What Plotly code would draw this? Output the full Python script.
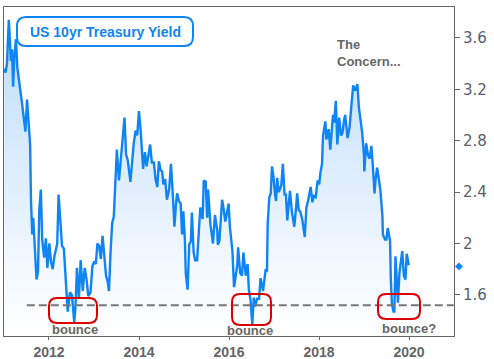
import plotly.graph_objects as go

dates = [
 "2011-01-03","2011-01-14","2011-01-25","2011-02-03","2011-02-09","2011-02-18","2011-02-25","2011-03-07","2011-03-16","2011-03-25",
 "2011-04-08","2011-04-19","2011-05-02","2011-05-12","2011-05-25","2011-06-09","2011-06-24","2011-07-07","2011-07-20","2011-08-01",
 "2011-08-08","2011-08-18","2011-08-26","2011-09-06","2011-09-22","2011-10-04","2011-10-14","2011-10-27","2011-11-07","2011-11-23",
 "2011-12-07","2011-12-19",
 "2012-01-04","2012-01-17","2012-01-31","2012-02-14","2012-02-28","2012-03-08","2012-03-19","2012-04-02","2012-04-16","2012-05-01",
 "2012-05-15","2012-05-25","2012-06-01","2012-06-19","2012-07-05","2012-07-24","2012-08-02","2012-08-15","2012-08-31","2012-09-14",
 "2012-10-01","2012-10-17","2012-11-01","2012-11-15","2012-12-03","2012-12-18",
 "2013-01-02","2013-01-15","2013-01-28","2013-02-11","2013-02-25","2013-03-11","2013-03-25","2013-04-08","2013-04-22","2013-05-02",
 "2013-05-15","2013-05-28","2013-06-10","2013-06-24","2013-07-05","2013-07-22","2013-08-05","2013-08-20","2013-09-05","2013-09-18",
 "2013-10-01","2013-10-23","2013-11-05","2013-11-20","2013-12-05","2013-12-17","2013-12-31",
 "2014-01-14","2014-02-03","2014-02-18","2014-03-03","2014-03-18","2014-04-01","2014-04-15","2014-05-01","2014-05-15","2014-05-29",
 "2014-06-11","2014-06-25","2014-07-08","2014-07-17","2014-08-01","2014-08-15","2014-09-02","2014-09-17","2014-10-01","2014-10-15",
 "2014-10-29","2014-11-06","2014-11-20","2014-12-05","2014-12-16","2014-12-26",
 "2015-01-08","2015-01-15","2015-01-30","2015-02-12","2015-02-26","2015-03-06","2015-03-20","2015-04-01","2015-04-17","2015-05-01",
 "2015-05-13","2015-06-01","2015-06-10","2015-06-26","2015-07-08","2015-07-15","2015-08-03","2015-08-24","2015-09-09","2015-09-28",
 "2015-10-02","2015-10-15","2015-11-06","2015-11-20","2015-12-02","2015-12-14","2015-12-29",
 "2016-01-08","2016-01-20","2016-01-29","2016-02-11","2016-02-25","2016-03-08","2016-03-15","2016-04-01","2016-04-15","2016-04-27",
 "2016-05-16","2016-05-31","2016-06-10","2016-06-24","2016-07-08","2016-07-20","2016-08-01","2016-08-16","2016-09-01","2016-09-13",
 "2016-10-03","2016-10-25","2016-11-04","2016-11-10","2016-11-23","2016-12-05","2016-12-15","2016-12-28",
 "2017-01-09","2017-01-17","2017-01-26","2017-02-07","2017-02-21","2017-03-01","2017-03-13","2017-03-27","2017-04-07","2017-04-18",
 "2017-05-01","2017-05-10","2017-05-25","2017-06-07","2017-06-14","2017-06-30","2017-07-07","2017-07-20","2017-08-01","2017-08-17",
 "2017-09-07","2017-09-20","2017-10-03","2017-10-25","2017-11-08","2017-11-20","2017-12-05","2017-12-20",
 "2018-01-02","2018-01-12","2018-01-25","2018-02-02","2018-02-21","2018-03-01","2018-03-20","2018-04-02","2018-04-24","2018-05-03",
 "2018-05-17","2018-05-29","2018-06-13","2018-06-28","2018-07-10","2018-07-25","2018-08-01","2018-08-20","2018-09-05","2018-09-20",
 "2018-10-05","2018-10-22","2018-11-08","2018-11-20","2018-12-03","2018-12-17","2018-12-31",
 "2019-01-03","2019-01-18","2019-02-01","2019-02-15","2019-03-01","2019-03-13","2019-03-27","2019-04-05","2019-04-17","2019-05-01",
 "2019-05-14","2019-05-30","2019-06-03","2019-06-20","2019-07-01","2019-07-12","2019-07-31","2019-08-06","2019-08-15","2019-08-28",
 "2019-09-04","2019-09-13","2019-09-27","2019-10-03","2019-10-15","2019-11-07","2019-11-20","2019-12-03","2019-12-13","2019-12-30",
]
yields = [
 3.36,3.33,3.40,3.58,3.74,3.58,3.42,3.51,3.22,3.44,
 3.59,3.37,3.29,3.20,3.11,3.00,2.87,3.12,2.90,2.77,
 2.34,2.07,2.20,1.98,1.72,1.78,2.25,2.42,2.03,1.89,
 2.04,1.81,
 2.00,1.86,1.80,1.90,1.98,2.00,2.38,2.20,1.98,1.96,
 1.76,1.57,1.47,1.62,1.60,1.39,1.49,1.81,1.57,1.87,
 1.63,1.81,1.72,1.59,1.62,1.82,
 1.86,1.84,2.00,1.98,1.88,2.06,1.91,1.75,1.70,1.63,
 1.94,2.16,2.21,2.55,2.73,2.49,2.64,2.83,2.98,2.69,
 2.65,2.48,2.63,2.79,2.88,2.84,3.03,
 2.88,2.58,2.71,2.60,2.69,2.77,2.63,2.63,2.50,2.44,
 2.64,2.57,2.56,2.46,2.50,2.34,2.42,2.62,2.40,2.13,
 2.32,2.39,2.33,2.31,2.07,2.25,
 2.03,1.77,1.64,1.99,2.02,2.24,1.93,1.87,1.87,2.12,
 2.28,2.19,2.49,2.48,2.20,2.42,2.15,2.00,2.22,2.10,
 1.99,2.02,2.34,2.26,2.17,2.23,2.31,
 2.13,1.98,1.94,1.66,1.74,1.83,1.97,1.77,1.75,1.93,
 1.75,1.84,1.64,1.56,1.37,1.58,1.51,1.57,1.57,1.73,
 1.63,1.80,1.78,2.15,2.36,2.39,2.60,2.51,
 2.38,2.33,2.51,2.40,2.43,2.46,2.62,2.38,2.38,2.18,
 2.32,2.41,2.25,2.18,2.13,2.30,2.39,2.26,2.25,2.19,
 2.05,2.28,2.33,2.44,2.32,2.37,2.36,2.49,
 2.46,2.55,2.62,2.84,2.95,2.81,2.89,2.73,3.00,2.94,
 3.11,2.77,2.98,2.84,2.86,2.97,3.00,2.82,2.90,3.07,
 3.23,3.19,3.24,3.06,2.98,2.86,2.69,
 2.56,2.78,2.69,2.66,2.76,2.61,2.39,2.50,2.59,2.50,
 2.41,2.21,2.07,2.03,2.03,2.12,2.02,1.73,1.53,1.47,
 1.47,1.90,1.69,1.54,1.77,1.94,1.75,1.72,1.92,1.83,
]
support_level = 1.52
y_tick_vals = [1.6, 2.0, 2.4, 2.8, 3.2, 3.6]
y_tick_text = ["1.6", "2", "2.4", "2.8", "3.2", "3.6"]
bounce_labels = ["bounce", "bounce", "bounce?"]

W, H = 494, 359
ML, MR, MT, MB = 4, 40, 7, 23
PW, PH = W - ML - MR, H - MT - MB

def px(x):
    return (x - ML) / PW

def py(y):
    return (H - MB - y) / PH

def rrect(x0, y0, x1, y1, r):
    rx, ry = r / PW, r / PH
    X0, X1 = px(x0), px(x1)
    Y0, Y1 = py(y0), py(y1)
    return (f"M {X0+rx},{Y0} L {X1-rx},{Y0} Q {X1},{Y0} {X1},{Y0-ry} "
            f"L {X1},{Y1+ry} Q {X1},{Y1} {X1-rx},{Y1} L {X0+rx},{Y1} "
            f"Q {X0},{Y1} {X0},{Y1+ry} L {X0},{Y0-ry} Q {X0},{Y0} {X0+rx},{Y0} Z")

blue = "#0f84f5"
fig = go.Figure()
fig.add_trace(go.Scatter(
    x=dates, y=yields, mode="lines",
    line=dict(color=blue, width=2.4),
    fill="tozeroy",
    fillgradient=dict(type="vertical", start=1.28, stop=3.84,
                      colorscale=[[0, "rgba(255,255,255,1)"], [0.3, "rgba(236,245,254,1)"], [1, "rgba(185,218,250,1)"]]),
    hoverinfo="skip", showlegend=False,
))

shapes = [
    dict(type="line", xref="x", yref="y", x0="2011-07-05", x1="2020-12-28",
         y0=support_level, y1=support_level,
         line=dict(color="#777777", width=2, dash="8px,4px")),
]
boxes = [(49, 298, 97, 323), (232, 294, 271, 325), (378, 294, 420, 319)]
for b in boxes:
    shapes.append(dict(type="path", xref="paper", yref="paper", path=rrect(*b, 8),
                       line=dict(color="#dd0000", width=2)))
shapes.append(dict(type="path", xref="paper", yref="paper", path=rrect(17, 17, 193, 46, 9),
                   line=dict(color=blue, width=2), fillcolor="white"))

annotations = [
    dict(xref="paper", yref="paper", x=px(105), y=py(32), text="<b>US 10yr Treasury Yield</b>",
         xanchor="center", yanchor="middle",
         showarrow=False, font=dict(family="Liberation Sans", size=14, color=blue)),
    dict(xref="paper", yref="paper", x=px(335), y=py(53), text="<b>The<br>Concern...</b>",
         showarrow=False, xanchor="left", yanchor="middle", align="left",
         font=dict(family="Liberation Sans", size=13, color="#666666")),
    dict(xref="paper", yref="y", x=px(459), y=yields[-1], text="◆", showarrow=False,
         xanchor="center", yanchor="middle",
         font=dict(family="DejaVu Sans", size=10, color=blue)),
]
for cx, cy, t in zip([75, 250, 409], [329, 330, 328], bounce_labels):
    annotations.append(dict(xref="paper", yref="paper", x=px(cx), y=py(cy), text=f"<b>{t}</b>",
                            xanchor="center", yanchor="middle",
                            showarrow=False, font=dict(family="Liberation Sans", size=13, color="#666666")))

fig.update_layout(
    width=W, height=H, margin=dict(l=ML, r=MR, t=MT, b=MB, autoexpand=False),
    paper_bgcolor="white", plot_bgcolor="white",
    shapes=shapes, annotations=annotations,
    xaxis=dict(type="date", range=["2011-01-01", "2020-12-31"], tick0="2012-01-01", dtick="M24",
               tickformat="%Y", showgrid=False, zeroline=False,
               showline=True, linecolor="#666666", linewidth=1, mirror=True,
               ticks="outside", ticklen=3, tickcolor="#666666",
               tickfont=dict(family="Liberation Sans", size=14, color="#666666", weight="bold")),
    yaxis=dict(side="right", range=[1.28, 3.84], tickvals=y_tick_vals, ticktext=y_tick_text,
               showgrid=False, zeroline=False,
               showline=True, linecolor="#666666", linewidth=1, mirror=True,
               ticks="outside", ticklen=5, tickcolor="#666666",
               tickfont=dict(family="DejaVu Sans", size=15, color="#585e6b")),
)
fig.write_html("out.html", config={"displayModeBar": False},
               post_script="document.body.style.margin='0';document.body.style.overflow='hidden';")
